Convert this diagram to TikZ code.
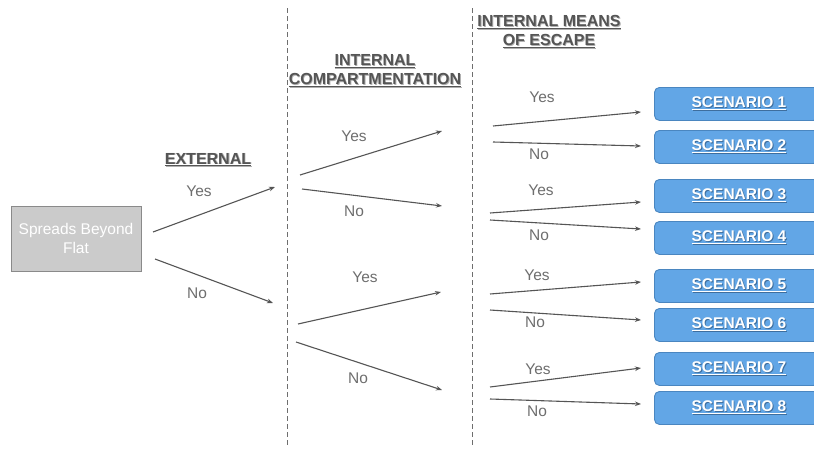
\documentclass[tikz,border=0pt]{standalone}
\usepackage{fontspec}
\setmainfont{Liberation Sans}
\usetikzlibrary{arrows.meta}
\definecolor{lbl}{HTML}{6E6E6E}
\definecolor{arr}{HTML}{555555}
\definecolor{head}{HTML}{555555}
\definecolor{headsh}{HTML}{B0B0B0}
\definecolor{bluefill}{HTML}{62A6E6}
\definecolor{blueedge}{HTML}{4A86C0}
\definecolor{bluesh}{HTML}{3E6E9E}
\definecolor{grayfill}{HTML}{CBCBCB}
\definecolor{grayedge}{HTML}{8A8A8A}
\tikzset{
  x=1pt,y=-1pt,
  lab/.style={text=lbl,font=\fontsize{15.5}{17}\selectfont,inner sep=0pt},
  hd/.style={text=head,font=\fontsize{16}{19}\selectfont\bfseries,align=center,inner sep=0pt},
  scen/.style={draw=blueedge,fill=bluefill,rounded corners=5pt,line width=0.9pt,minimum width=164pt,minimum height=33pt,anchor=north west,inner sep=0pt},
  stxt/.style={text=white,font=\fontsize{15.5}{17}\selectfont\bfseries,inner sep=0pt},
  conn/.style={draw=arr,line width=1.1pt,-{Stealth[length=6pt,width=4.5pt]}},
  divider/.style={draw=grayedge!80!black,line width=0.9pt,dash pattern=on 5pt off 3pt},
}
\newcommand{\shul}[2]{\makebox[0pt][l]{\raisebox{-0.9pt}{\hspace{0.9pt}\textcolor{#1}{\underline{#2}}}}\underline{#2}}
\begin{document}
\begin{tikzpicture}
\useasboundingbox (0,0) rectangle (814,450);
\fill[white] (0,0) rectangle (814,450);
% dividers
\coordinate (d1t) at (287,8); \coordinate (d1b) at (287,446);
\coordinate (d2t) at (472,8); \coordinate (d2b) at (472,446);
\draw[divider] (d1t) -- (d1b);
\draw[divider] (d2t) -- (d2b);
% start box
\node[draw=grayedge,fill=grayfill,line width=0.9pt,minimum width=130pt,minimum height=65pt,align=center,text=white,font=\fontsize{15.5}{19}\selectfont,inner sep=0pt] (start) at (76,238.5) {Spreads Beyond\\Flat};
% headings
\node[hd] (hext) at (208,160) {\shul{headsh}{EXTERNAL}};
\node[hd] (hcomp) at (375,71) {\shul{headsh}{INTERNAL}\\\shul{headsh}{COMPARTMENTATION}};
\node[hd] (hesc) at (549,32) {\shul{headsh}{INTERNAL MEANS}\\\shul{headsh}{OF ESCAPE}};
% scenario boxes
\foreach \i/\y in {1/87,2/130,3/179,4/221,5/269,6/308,7/352,8/391}{
  \node[scen] (s\i) at (654,\y) {};
  \node[stxt] (t\i) at (739,\y+16.5) {\shul{bluesh}{SCENARIO \i}};
}
% level 1
\coordinate (a1s) at (153,232); \coordinate (a1e) at (275,187);
\coordinate (a2s) at (155,259); \coordinate (a2e) at (273,303);
\draw[conn] (a1s) -- (a1e);
\draw[conn] (a2s) -- (a2e);
\node[lab] (l1) at (199,191) {Yes};
\node[lab] (l2) at (197,293) {No};
% level 2
\coordinate (b1s) at (300,175); \coordinate (b1e) at (442,131);
\coordinate (b2s) at (302,189); \coordinate (b2e) at (442,206);
\coordinate (b3s) at (298,324); \coordinate (b3e) at (441,292);
\coordinate (b4s) at (296,342); \coordinate (b4e) at (442,390);
\foreach \k in {1,2,3,4}{\draw[conn] (b\k s) -- (b\k e);}
\node[lab] (m1) at (354,136) {Yes};
\node[lab] (m2) at (354,211) {No};
\node[lab] (m3) at (365,277) {Yes};
\node[lab] (m4) at (358,378) {No};
% level 3
\coordinate (c1s) at (493,126); \coordinate (c1e) at (641,112);
\coordinate (c2s) at (493,142); \coordinate (c2e) at (641,146);
\coordinate (c3s) at (490,213); \coordinate (c3e) at (641,202);
\coordinate (c4s) at (490,220); \coordinate (c4e) at (641,229);
\coordinate (c5s) at (490,294); \coordinate (c5e) at (641,282);
\coordinate (c6s) at (490,310); \coordinate (c6e) at (641,320);
\coordinate (c7s) at (490,387); \coordinate (c7e) at (641,368);
\coordinate (c8s) at (490,399); \coordinate (c8e) at (641,404);
\foreach \k in {1,...,8}{\draw[conn] (c\k s) -- (c\k e);}
\node[lab] (n1) at (542,97) {Yes};
\node[lab] (n2) at (539,154) {No};
\node[lab] (n3) at (541,190) {Yes};
\node[lab] (n4) at (539,235) {No};
\node[lab] (n5) at (537,275) {Yes};
\node[lab] (n6) at (535,322) {No};
\node[lab] (n7) at (538,369) {Yes};
\node[lab] (n8) at (537,411) {No};
\end{tikzpicture}
\end{document}
